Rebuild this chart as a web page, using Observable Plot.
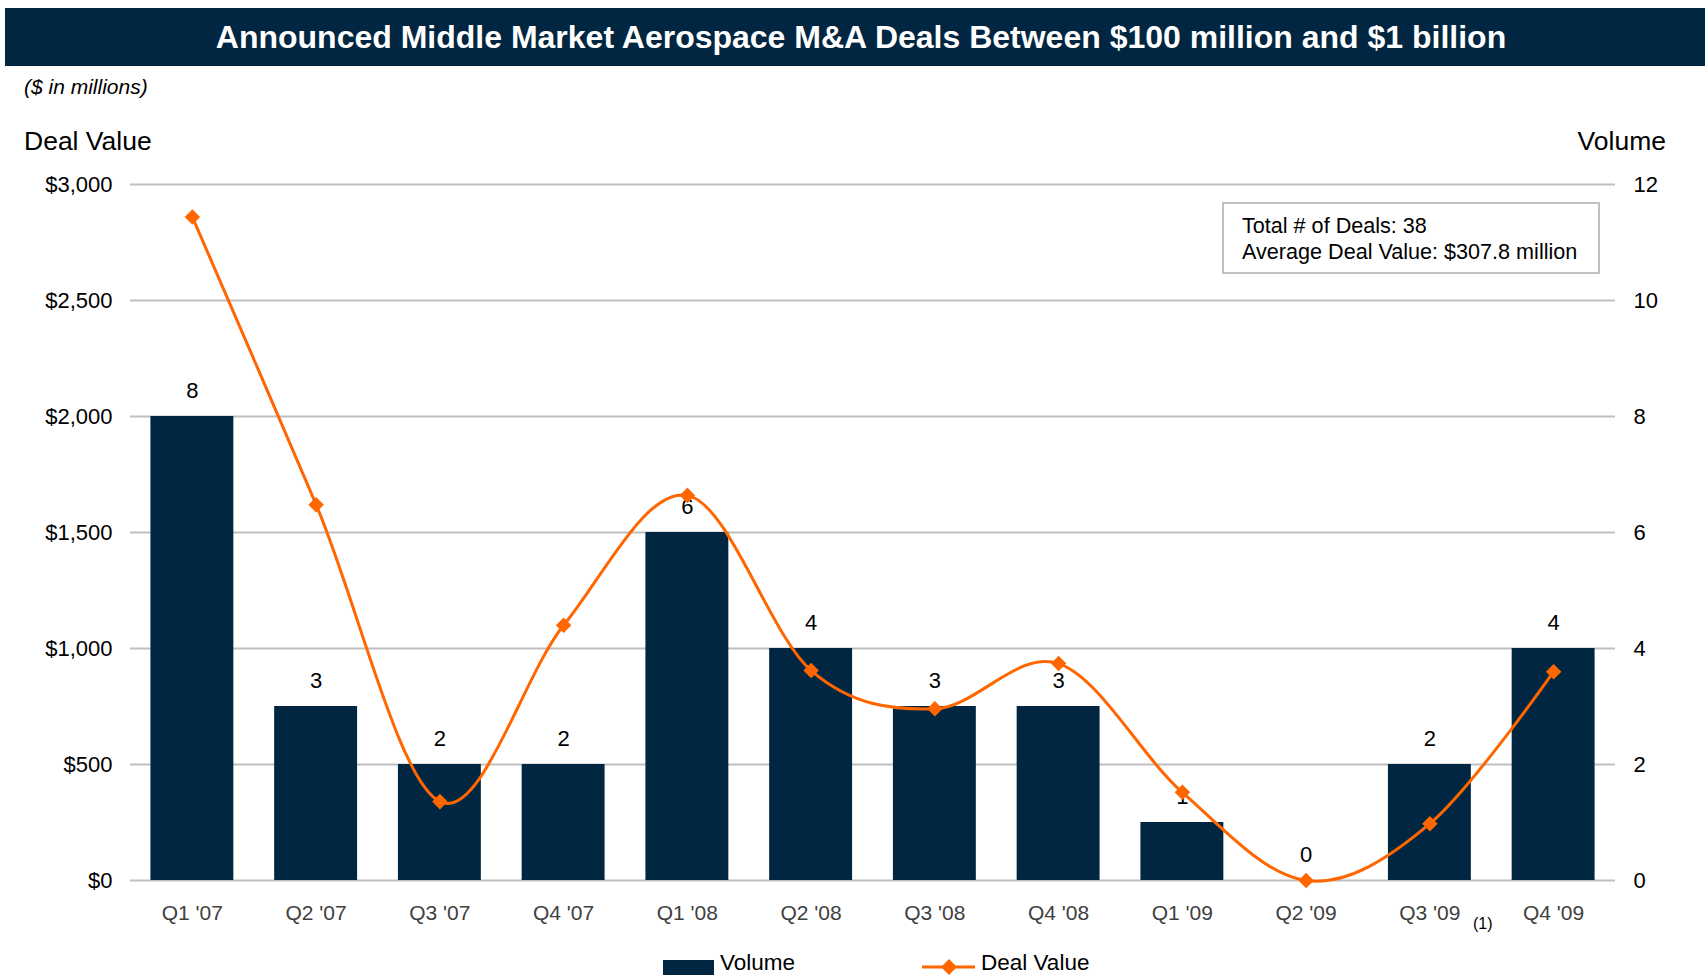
<!DOCTYPE html>
<html>
<head>
<meta charset="utf-8">
<script src="https://cdn.jsdelivr.net/npm/d3@7"></script>
<script src="https://cdn.jsdelivr.net/npm/@observablehq/plot@0.6"></script>
<style>
  html, body { margin: 0; padding: 0; background: #ffffff; }
  body { font-family: "Liberation Sans", Arial, sans-serif; }
  #page { position: relative; width: 1705px; height: 977px; overflow: hidden; background: #fff; }
  .abs { position: absolute; white-space: nowrap; }
  #title { left: 5px; top: 8px; width: 1712px; height: 58px; background: #012641; color: #fff;
           font-weight: bold; font-size: 32px; line-height: 58px; text-align: center; }
  #unit { left: 24px; top: 74px; font-size: 21px; font-style: italic; line-height: 26px; color: #000; }
  #leftTitle { left: 24px; top: 126px; font-size: 26.5px; line-height: 30px; color: #000; }
  #rightTitle { right: 39px; top: 126px; font-size: 26.5px; line-height: 30px; color: #000; }
  #note { left: 1222px; top: 202px; border: 2px solid #C0C0C0; background: #fff;
          font-size: 21.6px; line-height: 26px; padding: 9px 0 0 18px; box-sizing: border-box; width: 378px; height: 72px; color: #000; }
  #foot { left: 1473px; top: 915px; font-size: 16px; line-height: 18px; color: #000; }
  #chart { position: absolute; left: 0; top: 99px; }
  .legtext { font-size: 22.5px; line-height: 16px; color: #000; top: 955px; }
</style>
</head>
<body>
<div id="page">
  <div id="title" class="abs">Announced Middle Market Aerospace M&amp;A Deals Between $100 million and $1 billion</div>
  <div id="unit" class="abs">($ in millions)</div>
  <div id="leftTitle" class="abs">Deal Value</div>
  <div id="rightTitle" class="abs">Volume</div>
  <div id="chart"></div>
  <div id="note" class="abs">Total # of Deals: 38<br>Average Deal Value: $307.8 million</div>
  <div id="foot" class="abs">(1)</div>
  <div class="abs" style="left:663px; top:960px; width:51px; height:15px; background:#012641;"></div>
  <div class="abs legtext" style="left:720px;">Volume</div>
  <svg class="abs" style="left:915px; top:954px;" width="66" height="22">
    <line x1="7" y1="13" x2="60" y2="13" stroke="#FF6600" stroke-width="3"></line>
    <path d="M34,5 L42,13 L34,21 L26,13 Z" fill="#FF6600"></path>
  </svg>
  <div class="abs legtext" style="left:981px;">Deal Value</div>
</div>
<script>
// ---- data ----
const quarters = ["Q1 '07", "Q2 '07", "Q3 '07", "Q4 '07", "Q1 '08", "Q2 '08", "Q3 '08", "Q4 '08", "Q1 '09", "Q2 '09", "Q3 '09", "Q4 '09"];
const volumes = [8, 3, 2, 2, 6, 4, 3, 3, 1, 0, 2, 4];
const dealValues = [2860, 1620, 340, 1100, 1660, 905, 740, 935, 380, 0, 245, 900];
const valueTicks = [0, 500, 1000, 1500, 2000, 2500, 3000];
const volumeTicks = [0, 2, 4, 6, 8, 10, 12];
const valueMax = 3000;
const volumeMax = 12;

// ---- build ----
const ratio = valueMax / volumeMax;
const data = quarters.map((q, i) => ({quarter: q, volume: volumes[i], value: dealValues[i]}));
const navy = "#012641";
const orange = "#FF6600";

const chart = Plot.plot({
  width: 1705,
  height: 840,
  marginTop: 85,
  marginBottom: 59,
  marginLeft: 130,
  marginRight: 90,
  style: {fontFamily: "'Liberation Sans', Arial, sans-serif", color: "#000", background: "transparent", overflow: "visible"},
  x: {domain: quarters, paddingInner: 0.33, paddingOuter: 0.165, round: false},
  y: {domain: [0, valueMax]},
  marks: [
    Plot.ruleY(valueTicks, {stroke: "#BFBFBF", strokeWidth: 2}),
    Plot.barY(data, {x: "quarter", y: d => d.volume * ratio, fill: navy}),
    Plot.text(data, {x: "quarter", y: d => d.volume * ratio, text: d => String(d.volume), dy: -26, fontSize: 22, fill: "#000"}),
    Plot.line(data, {x: "quarter", y: "value", stroke: orange, strokeWidth: 3, curve: "cardinal", tension: 0}),
    Plot.dot(data, {x: "quarter", y: "value", symbol: "diamond2", r: 7, fill: orange, stroke: "none"}),
    Plot.axisY(valueTicks, {anchor: "left", tickSize: 0, tickPadding: 18, fontSize: 22, fill: "#000", label: null,
      tickFormat: d => "$" + d3.format(",")(d)}),
    Plot.axisY(volumeTicks.map(v => v * ratio), {anchor: "right", tickSize: 0, tickPadding: 18, fontSize: 22, fill: "#000", label: null,
      tickFormat: d => String(Math.round(d / ratio))}),
    Plot.axisX({tickSize: 0, tickPadding: 25, fontSize: 21, fill: "#404040", label: null})
  ]
});
document.getElementById("chart").appendChild(chart);
</script>
</body>
</html>
